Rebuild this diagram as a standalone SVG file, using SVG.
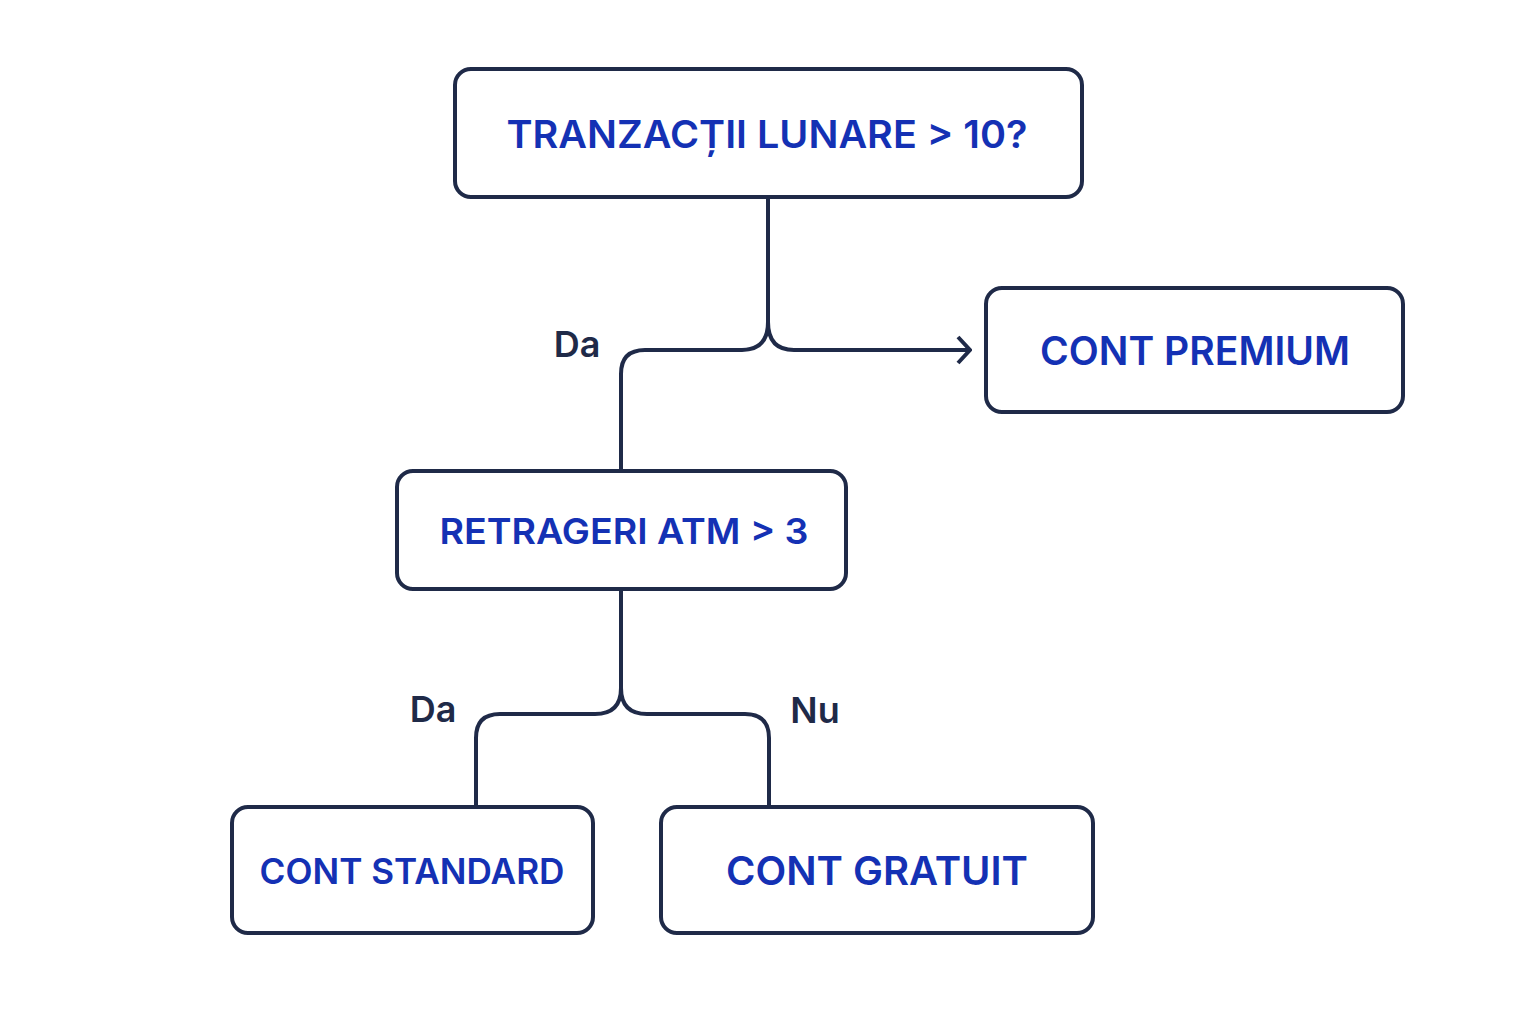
<svg xmlns="http://www.w3.org/2000/svg" width="1536" height="1024" viewBox="0 0 1536 1024">
<style>
.box{fill:#ffffff;stroke:#1f2a48;stroke-width:4}
.t{font-family:Inter,"Noto Sans","Liberation Sans",sans-serif;font-weight:600;fill:#1431b4;text-anchor:middle}
.lbl{font-family:Inter,"Noto Sans","Liberation Sans",sans-serif;font-weight:600;fill:#1f2a48;text-anchor:middle;font-size:36px}
.c{fill:none;stroke:#1f2a48;stroke-width:4;stroke-linejoin:round}
</style>
<defs>
<marker id="arr" viewBox="0 0 16 30" refX="14" refY="15" markerWidth="16" markerHeight="30" markerUnits="userSpaceOnUse" orient="auto">
<path d="M2,2 L14,15 L2,28" fill="none" stroke="#1f2a48" stroke-width="4"/>
</marker>
</defs>
<rect width="1536" height="1024" fill="#ffffff"/>
<g id="connectors">
<path class="c" d="M768,197 V322 Q768,350 742,350 H645 Q621,350 621,374 V471"/>
<path class="c" d="M768,322 Q768,350 794,350 H970" marker-end="url(#arr)"/>
<path class="c" d="M621,589 V688 Q621,714 595,714 H500 Q476,714 476,738 V807"/>
<path class="c" d="M621,688 Q621,714 647,714 H745 Q769,714 769,738 V807"/>
<text class="lbl" x="577" y="357">Da</text>
<text class="lbl" x="433" y="722">Da</text>
<text class="lbl" x="815" y="723">Nu</text>
</g>
<g id="n1"><rect class="box" x="455" y="69" width="627" height="128" rx="16"/><text class="t" x="767" y="148" font-size="38" textLength="521" lengthAdjust="spacingAndGlyphs">TRANZACȚII LUNARE &gt; 10?</text></g>
<g id="n2"><rect class="box" x="986" y="288" width="417" height="124" rx="16"/><text class="t" x="1195" y="365" font-size="39" textLength="310" lengthAdjust="spacingAndGlyphs">CONT PREMIUM</text></g>
<g id="n3"><rect class="box" x="397" y="471" width="449" height="118" rx="16"/><text class="t" x="624" y="544" font-size="36" textLength="369" lengthAdjust="spacingAndGlyphs">RETRAGERI ATM &gt; 3</text></g>
<g id="n4"><rect class="box" x="232" y="807" width="361" height="126" rx="16"/><text class="t" x="412" y="884" font-size="35" textLength="305" lengthAdjust="spacingAndGlyphs">CONT STANDARD</text></g>
<g id="n5"><rect class="box" x="661" y="807" width="432" height="126" rx="16"/><text class="t" x="877" y="885" font-size="40" textLength="302" lengthAdjust="spacingAndGlyphs">CONT GRATUIT</text></g>
</svg>
